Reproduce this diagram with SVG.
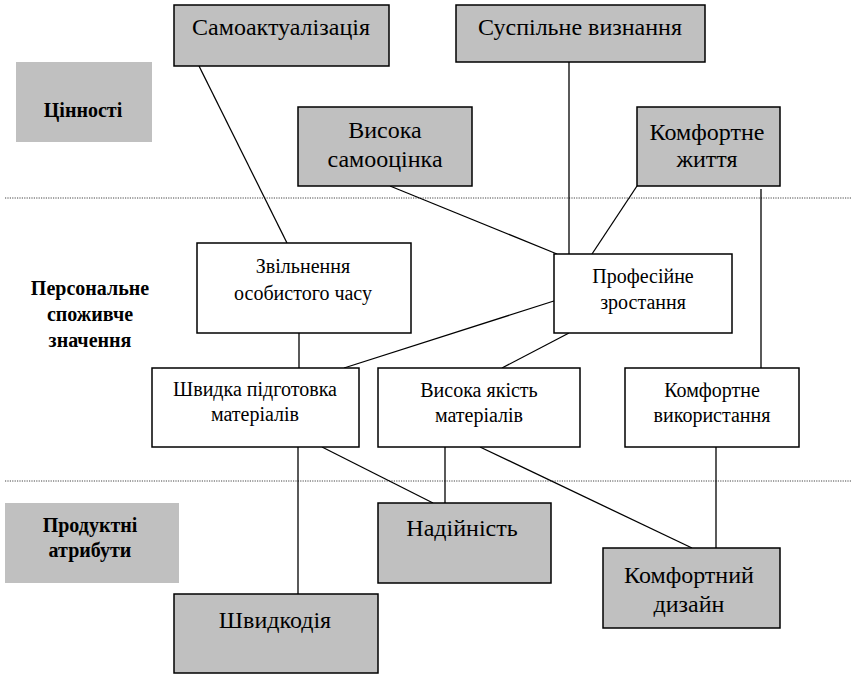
<svg xmlns="http://www.w3.org/2000/svg" width="851" height="675" viewBox="0 0 851 675">
<style>
.g{fill:#c0c0c0;stroke:#000;stroke-width:1.5}
.w{fill:#fff;stroke:#000;stroke-width:1.5}
.lb{fill:#c0c0c0;stroke:none}
.c line{stroke:#000;stroke-width:1.3}
.dot{stroke:#444;stroke-width:1;stroke-dasharray:1.2,1.2}
text{font-family:Liberation Serif,Times New Roman,serif;text-anchor:middle;fill:#000}
.big{font-size:24px}
.sm{font-size:20px}
.b{font-size:20px;font-weight:bold}
</style>
<rect width="851" height="675" fill="#fff"/>
<line class="dot" x1="5" y1="198" x2="851" y2="198"/>
<line class="dot" x1="5" y1="481" x2="851" y2="481"/>
<g id="connectors" class="c">
<line x1="199" y1="66" x2="287" y2="243"/>
<line x1="569" y1="62" x2="569" y2="254"/>
<line x1="390" y1="186" x2="557" y2="254"/>
<line x1="637" y1="186" x2="592" y2="254"/>
<line x1="761" y1="189" x2="761" y2="369"/>
<line x1="299" y1="333" x2="299" y2="368"/>
<line x1="344" y1="368" x2="557" y2="300"/>
<line x1="569" y1="333" x2="502" y2="368"/>
<line x1="298" y1="447" x2="298" y2="594"/>
<line x1="322" y1="447" x2="433" y2="503"/>
<line x1="445" y1="447" x2="445" y2="503"/>
<line x1="480" y1="447" x2="692" y2="548"/>
<line x1="716" y1="447" x2="716" y2="548"/>
</g>
<g id="lbl-cinnosti"><rect class="lb" x="16" y="62" width="136" height="80"/><text class="b" font-family="Liberation Serif" x="83" y="117">Цінності</text></g>
<g id="lbl-personal"><text class="b" font-family="Liberation Serif" x="90" y="295">Персональне</text><text class="b" font-family="Liberation Serif" x="90" y="321">споживче</text><text class="b" font-family="Liberation Serif" x="90" y="347">значення</text></g>
<g id="lbl-product"><rect class="lb" x="5" y="503" width="174" height="80"/><text class="b" font-family="Liberation Serif" x="90" y="532">Продуктні</text><text class="b" font-family="Liberation Serif" x="90" y="557">атрибути</text></g>
<g id="n-samoakt"><rect class="g" x="174" y="5" width="215" height="61"/><text class="big" font-family="Liberation Serif" x="281" y="35">Самоактуалізація</text></g>
<g id="n-suspilne"><rect class="g" x="456" y="5" width="249" height="57"/><text class="big" font-family="Liberation Serif" x="580" y="35">Суспільне визнання</text></g>
<g id="n-samoocinka"><rect class="g" x="298" y="107" width="174" height="79"/><text class="big" font-family="Liberation Serif" x="385" y="138">Висока</text><text class="big" font-family="Liberation Serif" x="385" y="167">самооцінка</text></g>
<g id="n-komf-zhyttia"><rect class="g" x="637" y="107" width="143" height="79"/><text class="big" font-family="Liberation Serif" x="707" y="140">Комфортне</text><text class="big" font-family="Liberation Serif" x="707" y="167">життя</text></g>
<g id="n-zvilnennia"><rect class="w" x="197" y="243" width="214" height="90"/><text class="sm" font-family="Liberation Serif" x="303" y="273">Звільнення</text><text class="sm" font-family="Liberation Serif" x="303" y="300">особистого часу</text></g>
<g id="n-profesiine"><rect class="w" x="554" y="254" width="178" height="79"/><text class="sm" font-family="Liberation Serif" x="643" y="283">Професійне</text><text class="sm" font-family="Liberation Serif" x="643" y="309">зростання</text></g>
<g id="n-shvydka"><rect class="w" x="152" y="368" width="207" height="79"/><text class="sm" font-family="Liberation Serif" x="255" y="396">Швидка підготовка</text><text class="sm" font-family="Liberation Serif" x="255" y="421">матеріалів</text></g>
<g id="n-yakist"><rect class="w" x="378" y="368" width="202" height="79"/><text class="sm" font-family="Liberation Serif" x="479" y="397">Висока якість</text><text class="sm" font-family="Liberation Serif" x="479" y="422">матеріалів</text></g>
<g id="n-komf-vykor"><rect class="w" x="625" y="368" width="174" height="79"/><text class="sm" font-family="Liberation Serif" x="712" y="397">Комфортне</text><text class="sm" font-family="Liberation Serif" x="712" y="422">використання</text></g>
<g id="n-nadiinist"><rect class="g" x="378" y="503" width="173" height="80"/><text class="big" font-family="Liberation Serif" x="462" y="536">Надійність</text></g>
<g id="n-komf-dyzain"><rect class="g" x="603" y="548" width="177" height="80"/><text class="big" font-family="Liberation Serif" x="689" y="583">Комфортний</text><text class="big" font-family="Liberation Serif" x="689" y="612">дизайн</text></g>
<g id="n-shvydkodiia"><rect class="g" x="174" y="594" width="204" height="79"/><text class="big" font-family="Liberation Serif" x="275" y="628">Швидкодія</text></g>
</svg>
